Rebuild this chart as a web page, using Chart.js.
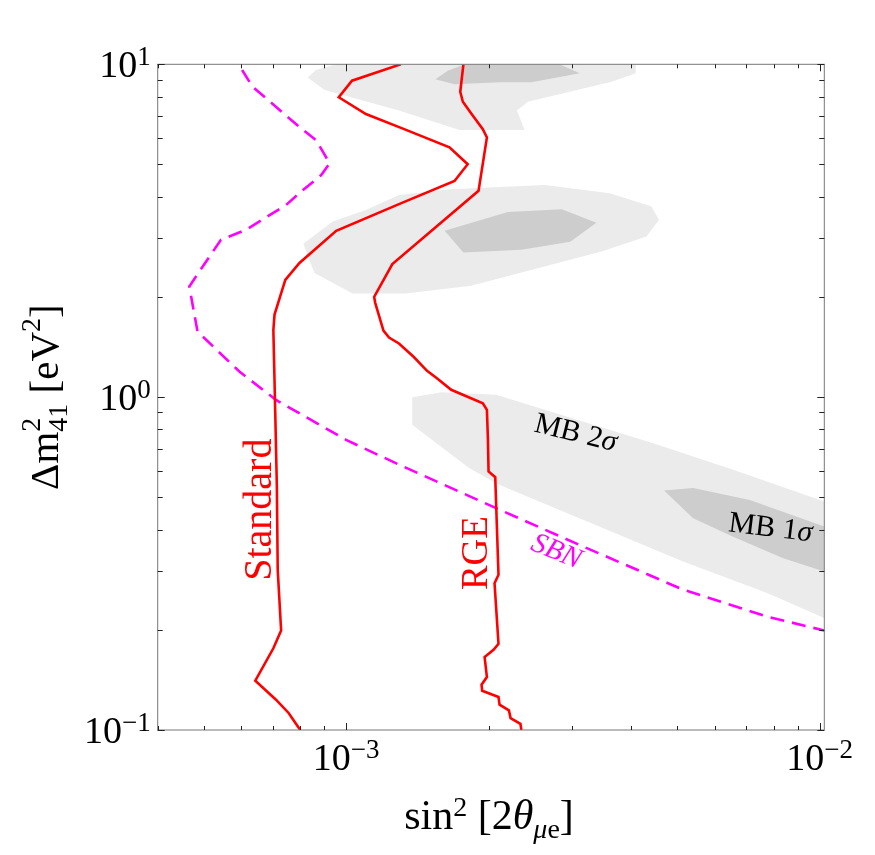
<!DOCTYPE html>
<html>
<head>
<meta charset="utf-8">
<script src="https://cdn.jsdelivr.net/npm/chart.js@4.4.1/dist/chart.umd.min.js"></script>
<style>
  html, body { margin: 0; padding: 0; background: #fff; }
  #wrap { width: 875px; height: 855px; }
</style>
</head>
<body>
<div id="wrap"><canvas id="chart" width="875" height="855"></canvas></div>
<script>
// === Axis ranges and ticks ===
const xRange = [4e-4, 1.023e-2];
const yRange = [0.1, 10];
const xMajorTicks = [1e-3, 1e-2];
const xTickLabels = [["10", "\u22123"], ["10", "\u22122"]];
const yMajorTicks = [0.1, 1, 10];
const yTickLabels = [["10", "\u22121"], ["10", "0"], ["10", "1"]];

// === Exclusion curves (x = sin^2 2theta, y = dm^2) ===
const standardX = [1.304e-3, 1.029e-3, 9.65e-4, 1.101e-3, 1.314e-3, 1.653e-3, 1.806e-3, 1.694e-3, 1.293e-3, 9.53e-4,
  7.97e-4, 7.44e-4, 7.06e-4, 7.02e-4, 7.09e-4, 7.14e-4, 7.17e-4, 7.29e-4, 7.02e-4, 6.43e-4, 7.11e-4, 7.56e-4, 8.00e-4];
const standardY = [10, 8.93, 7.96, 7.09, 6.42, 5.63, 5.01, 4.46, 3.80, 3.16,
  2.53, 2.25, 1.77, 1.59, 0.855, 0.539, 0.303, 0.199, 0.176, 0.1406, 0.1233, 0.1125, 0.1];

const rgeX = [1.769e-3, 1.742e-3, 1.764e-3, 1.836e-3, 1.944e-3, 1.983e-3, 1.904e-3, 1.252e-3, 1.146e-3, 1.152e-3,
  1.199e-3, 1.232e-3, 1.293e-3, 1.390e-3, 1.482e-3, 1.555e-3, 1.667e-3, 1.944e-3, 1.983e-3, 1.993e-3,
  1.999e-3, 2.065e-3, 2.098e-3, 2.058e-3, 2.098e-3, 2.048e-3, 1.961e-3, 1.983e-3, 1.932e-3, 1.938e-3,
  2.098e-3, 2.109e-3, 2.207e-3, 2.225e-3, 2.334e-3, 2.345e-3];
const rgeY = [10, 8.27, 7.72, 7.13, 6.38, 6.03, 4.17, 2.51, 2.00, 1.92,
  1.585, 1.51, 1.45, 1.32, 1.20, 1.14, 1.052, 0.959, 0.916, 0.744,
  0.598, 0.575, 0.2927, 0.276, 0.1816, 0.1742, 0.1656, 0.1442, 0.1368, 0.1312,
  0.1256, 0.1191, 0.1145, 0.1086, 0.1044, 0.1];

const sbnX = [6.03e-4, 6.34e-4, 8.03e-4, 8.64e-4, 9.23e-4, 8.86e-4, 8.03e-4, 7.47e-4, 6.14e-4, 5.44e-4,
  4.815e-4, 4.665e-4, 4.855e-4, 5.95e-4, 7.11e-4, 1.0e-3, 1.296e-3, 2.109e-3, 3.164e-3, 5.149e-3, 7.725e-3, 1.0226e-2];
const sbnY = [9.61, 8.57, 6.42, 5.92, 5.04, 4.65, 4.14, 3.78, 3.18, 2.97,
  2.30, 2.15, 1.574, 1.194, 0.981, 0.744, 0.626, 0.459, 0.356, 0.264, 0.2194, 0.199];

// === Allowed regions (closed contours) ===
const top2sX = [9.53e-4, 4.089e-3, 4.089e-3, 3.634e-3, 2.421e-3, 2.294e-3, 2.382e-3, 1.736e-3, 1.293e-3, 9.01e-4, 8.29e-4, 8.64e-4];
const top2sY = [10, 10, 9.40, 8.87, 7.72, 7.26, 6.35, 6.35, 7.26, 8.37, 9.12, 9.61];
const top1sX = [1.543e-3, 1.640e-3, 1.778e-3, 2.823e-3, 3.114e-3, 2.733e-3, 2.461e-3, 2.109e-3, 1.694e-3];
const top1sY = [9.02, 9.57, 10, 10, 9.40, 9.08, 8.83, 8.83, 8.71];

const mid2sX = [8.12e-4, 8.57e-4, 1.032e-3, 1.335e-3, 1.836e-3, 2.480e-3, 3.462e-3, 4.308e-3, 4.580e-3, 4.414e-3,
  3.604e-3, 2.626e-3, 1.653e-3, 1.293e-3, 1.101e-3, 9.37e-4];
const mid2sY = [2.89, 2.36, 2.05, 2.05, 2.16, 2.42, 2.74, 3.04, 3.41, 3.74, 4.10, 4.34, 4.21, 4.05, 3.65, 3.37];
const mid1sX = [1.614e-3, 1.769e-3, 2.345e-3, 2.974e-3, 3.378e-3, 2.854e-3, 2.196e-3];
const mid1sY = [3.16, 2.72, 2.77, 2.93, 3.34, 3.67, 3.60];

const mb2sX = [1.379e-3, 1.589e-3, 2.075e-3, 4.448e-3, 6.568e-3, 1.0226e-2, 1.0226e-2, 7.725e-3, 5.149e-3, 2.109e-3, 1.821e-3, 1.379e-3];
const mb2sY = [1.0, 1.035, 1.016, 0.727, 0.605, 0.486, 0.217, 0.2585, 0.321, 0.545, 0.612, 0.826];
const mb1sX = [4.693e-3, 5.405e-3, 7.121e-3, 1.0226e-2, 1.0226e-2, 8.378e-3, 6.568e-3, 5.405e-3];
const mb1sY = [0.524, 0.533, 0.491, 0.409, 0.2995, 0.328, 0.381, 0.433];

const FONT = '"Liberation Serif", "Times New Roman", serif';
const RED = "#ff0000";
const MAGENTA = "#ff00ff";
const LIGHT = "#ebebeb";
const DARK = "#cdcdcd";

function pts(xs, ys) {
  return xs.map((x, i) => ({ x, y: ys[i] }));
}

function curve(xs, ys, color, dash) {
  return {
    data: pts(xs, ys), showLine: true, borderColor: color, borderWidth: 2.6,
    borderDash: dash || [], pointRadius: 0, fill: false, tension: 0, order: 0
  };
}

function region(xs, ys, color, order) {
  return {
    data: pts(xs, ys), showLine: true, borderWidth: 0, borderColor: color,
    backgroundColor: color, pointRadius: 0, fill: "shape", tension: 0, order
  };
}

// === Text labels inside the plot (placed in data coordinates) ===
const notes = [
  { parts: [{ t: "Standard", size: 40 }], x: 6.95e-4, y: 0.459, angle: -90, color: RED, vshift: 0 },
  { parts: [{ t: "RGE", size: 37 }], x: 1.98e-3, y: 0.34, angle: -90, color: RED, vshift: 0 },
  { parts: [{ t: "SBN", size: 29, italic: true }], x: 2.79e-3, y: 0.348, angle: 22, color: MAGENTA, vshift: 10 },
  { parts: [{ t: "MB 2", size: 30 }, { t: "\u03c3", size: 30, italic: true }], x: 3.06e-3, y: 0.788, angle: 14, color: "#000", vshift: 10 },
  { parts: [{ t: "MB 1", size: 30 }, { t: "\u03c3", size: 30, italic: true }], x: 7.88e-3, y: 0.409, angle: 7, color: "#000", vshift: 10 }
];

// === Rich text (super/subscripts) ===
function drawRich(ctx, parts, x, y, angleDeg, align, color, vshift) {
  ctx.save();
  ctx.translate(x, y);
  ctx.rotate(angleDeg * Math.PI / 180);
  ctx.fillStyle = color;
  ctx.textAlign = "left";
  ctx.textBaseline = "alphabetic";
  const layout = [];
  let cursor = 0;
  parts.forEach(p => {
    ctx.font = (p.italic ? "italic " : "") + p.size + "px " + FONT;
    const w = ctx.measureText(p.t).width;
    if (p.stack && layout.length) {
      const prev = layout[layout.length - 1];
      layout.push({ p, x: prev.x, w });
      cursor = prev.x + Math.max(prev.w, w);
    } else {
      layout.push({ p, x: cursor, w });
      cursor += w;
    }
  });
  const off = align === "center" ? -cursor / 2 : align === "right" ? -cursor : 0;
  layout.forEach(l => {
    ctx.font = (l.p.italic ? "italic " : "") + l.p.size + "px " + FONT;
    ctx.fillText(l.p.t, off + l.x, (vshift || 0) - (l.p.rise || 0));
  });
  ctx.restore();
}

function logTicks(min, max) {
  const out = [];
  for (let e = Math.floor(Math.log10(min)); e <= Math.ceil(Math.log10(max)); e++) {
    for (let m = 1; m <= 9; m++) {
      const v = m * Math.pow(10, e);
      if (v >= min * 0.999 && v <= max * 1.001) out.push({ v, major: m === 1 });
    }
  }
  return out;
}

// === Frame, inward ticks, labels, titles ===
const framePlugin = {
  id: "frame",
  afterDraw(chart) {
    const { ctx, chartArea: a, scales } = chart;
    const xs = scales.x, ys = scales.y;

    ctx.save();
    ctx.strokeStyle = "#777";
    ctx.lineWidth = 1;
    ctx.strokeRect(a.left, a.top, a.right - a.left, a.bottom - a.top);

    ctx.strokeStyle = "#222";
    ctx.beginPath();
    logTicks(xRange[0], xRange[1]).forEach(t => {
      const px = Math.round(xs.getPixelForValue(t.v)) + 0.5;
      const len = t.major ? 7 : 4;
      ctx.moveTo(px, a.bottom); ctx.lineTo(px, a.bottom - len);
      ctx.moveTo(px, a.top); ctx.lineTo(px, a.top + len);
    });
    logTicks(yRange[0], yRange[1]).forEach(t => {
      const py = Math.round(ys.getPixelForValue(t.v)) + 0.5;
      const len = t.major ? 7 : 5;
      ctx.moveTo(a.left, py); ctx.lineTo(a.left + len, py);
      ctx.moveTo(a.right, py); ctx.lineTo(a.right - len, py);
    });
    ctx.stroke();
    ctx.restore();

    xMajorTicks.forEach((v, i) => {
      const [base, sup] = xTickLabels[i];
      drawRich(ctx, [{ t: base, size: 38 }, { t: sup, size: 27, rise: 12 }],
        xs.getPixelForValue(v), a.bottom + 40, 0, "center", "#000");
    });
    yMajorTicks.forEach((v, i) => {
      const [base, sup] = yTickLabels[i];
      drawRich(ctx, [{ t: base, size: 38 }, { t: sup, size: 27, rise: 12 }],
        a.left - 7, ys.getPixelForValue(v) + 13, 0, "right", "#000");
    });

    // x title: sin^2 [2 theta_{mu e}]
    drawRich(ctx, [
      { t: "sin", size: 42 }, { t: "2", size: 28, rise: 13 },
      { t: " [2", size: 42 }, { t: "\u03b8", size: 42, italic: true },
      { t: "\u03bc", size: 28, italic: true, rise: -9 }, { t: "e", size: 28, rise: -9 },
      { t: "]", size: 42 }
    ], (a.left + a.right) / 2 - 2, a.bottom + 99, 0, "center", "#000");

    // y title: Delta m^2_41 [eV^2]
    drawRich(ctx, [
      { t: "\u0394m", size: 41 }, { t: "2", size: 28, rise: 18 },
      { t: "41", size: 28, rise: -9, stack: true },
      { t: " [eV", size: 41 }, { t: "2", size: 28, rise: 18 },
      { t: "]", size: 41 }
    ], 58, (a.top + a.bottom) / 2, -90, "center", "#000");
  },
  afterDatasetsDraw(chart) {
    const { ctx, scales } = chart;
    notes.forEach(n => {
      drawRich(ctx, n.parts, scales.x.getPixelForValue(n.x), scales.y.getPixelForValue(n.y),
        n.angle, "center", n.color, n.vshift);
    });
  }
};

new Chart(document.getElementById("chart"), {
  type: "scatter",
  data: {
    datasets: [
      curve(standardX, standardY, RED),
      curve(rgeX, rgeY, RED),
      curve(sbnX, sbnY, MAGENTA, [14, 8]),
      region(top1sX, top1sY, DARK, 1),
      region(mid1sX, mid1sY, DARK, 1),
      region(mb1sX, mb1sY, DARK, 1),
      region(top2sX, top2sY, LIGHT, 2),
      region(mid2sX, mid2sY, LIGHT, 2),
      region(mb2sX, mb2sY, LIGHT, 2)
    ]
  },
  options: {
    responsive: false,
    animation: false,
    layout: { padding: { left: 157.7, top: 64.3, right: 50.7, bottom: 125 } },
    scales: {
      x: { type: "logarithmic", min: xRange[0], max: xRange[1], display: false },
      y: { type: "logarithmic", min: yRange[0], max: yRange[1], display: false }
    },
    plugins: { legend: { display: false }, tooltip: { enabled: false } }
  },
  plugins: [framePlugin]
});
</script>
</body>
</html>
